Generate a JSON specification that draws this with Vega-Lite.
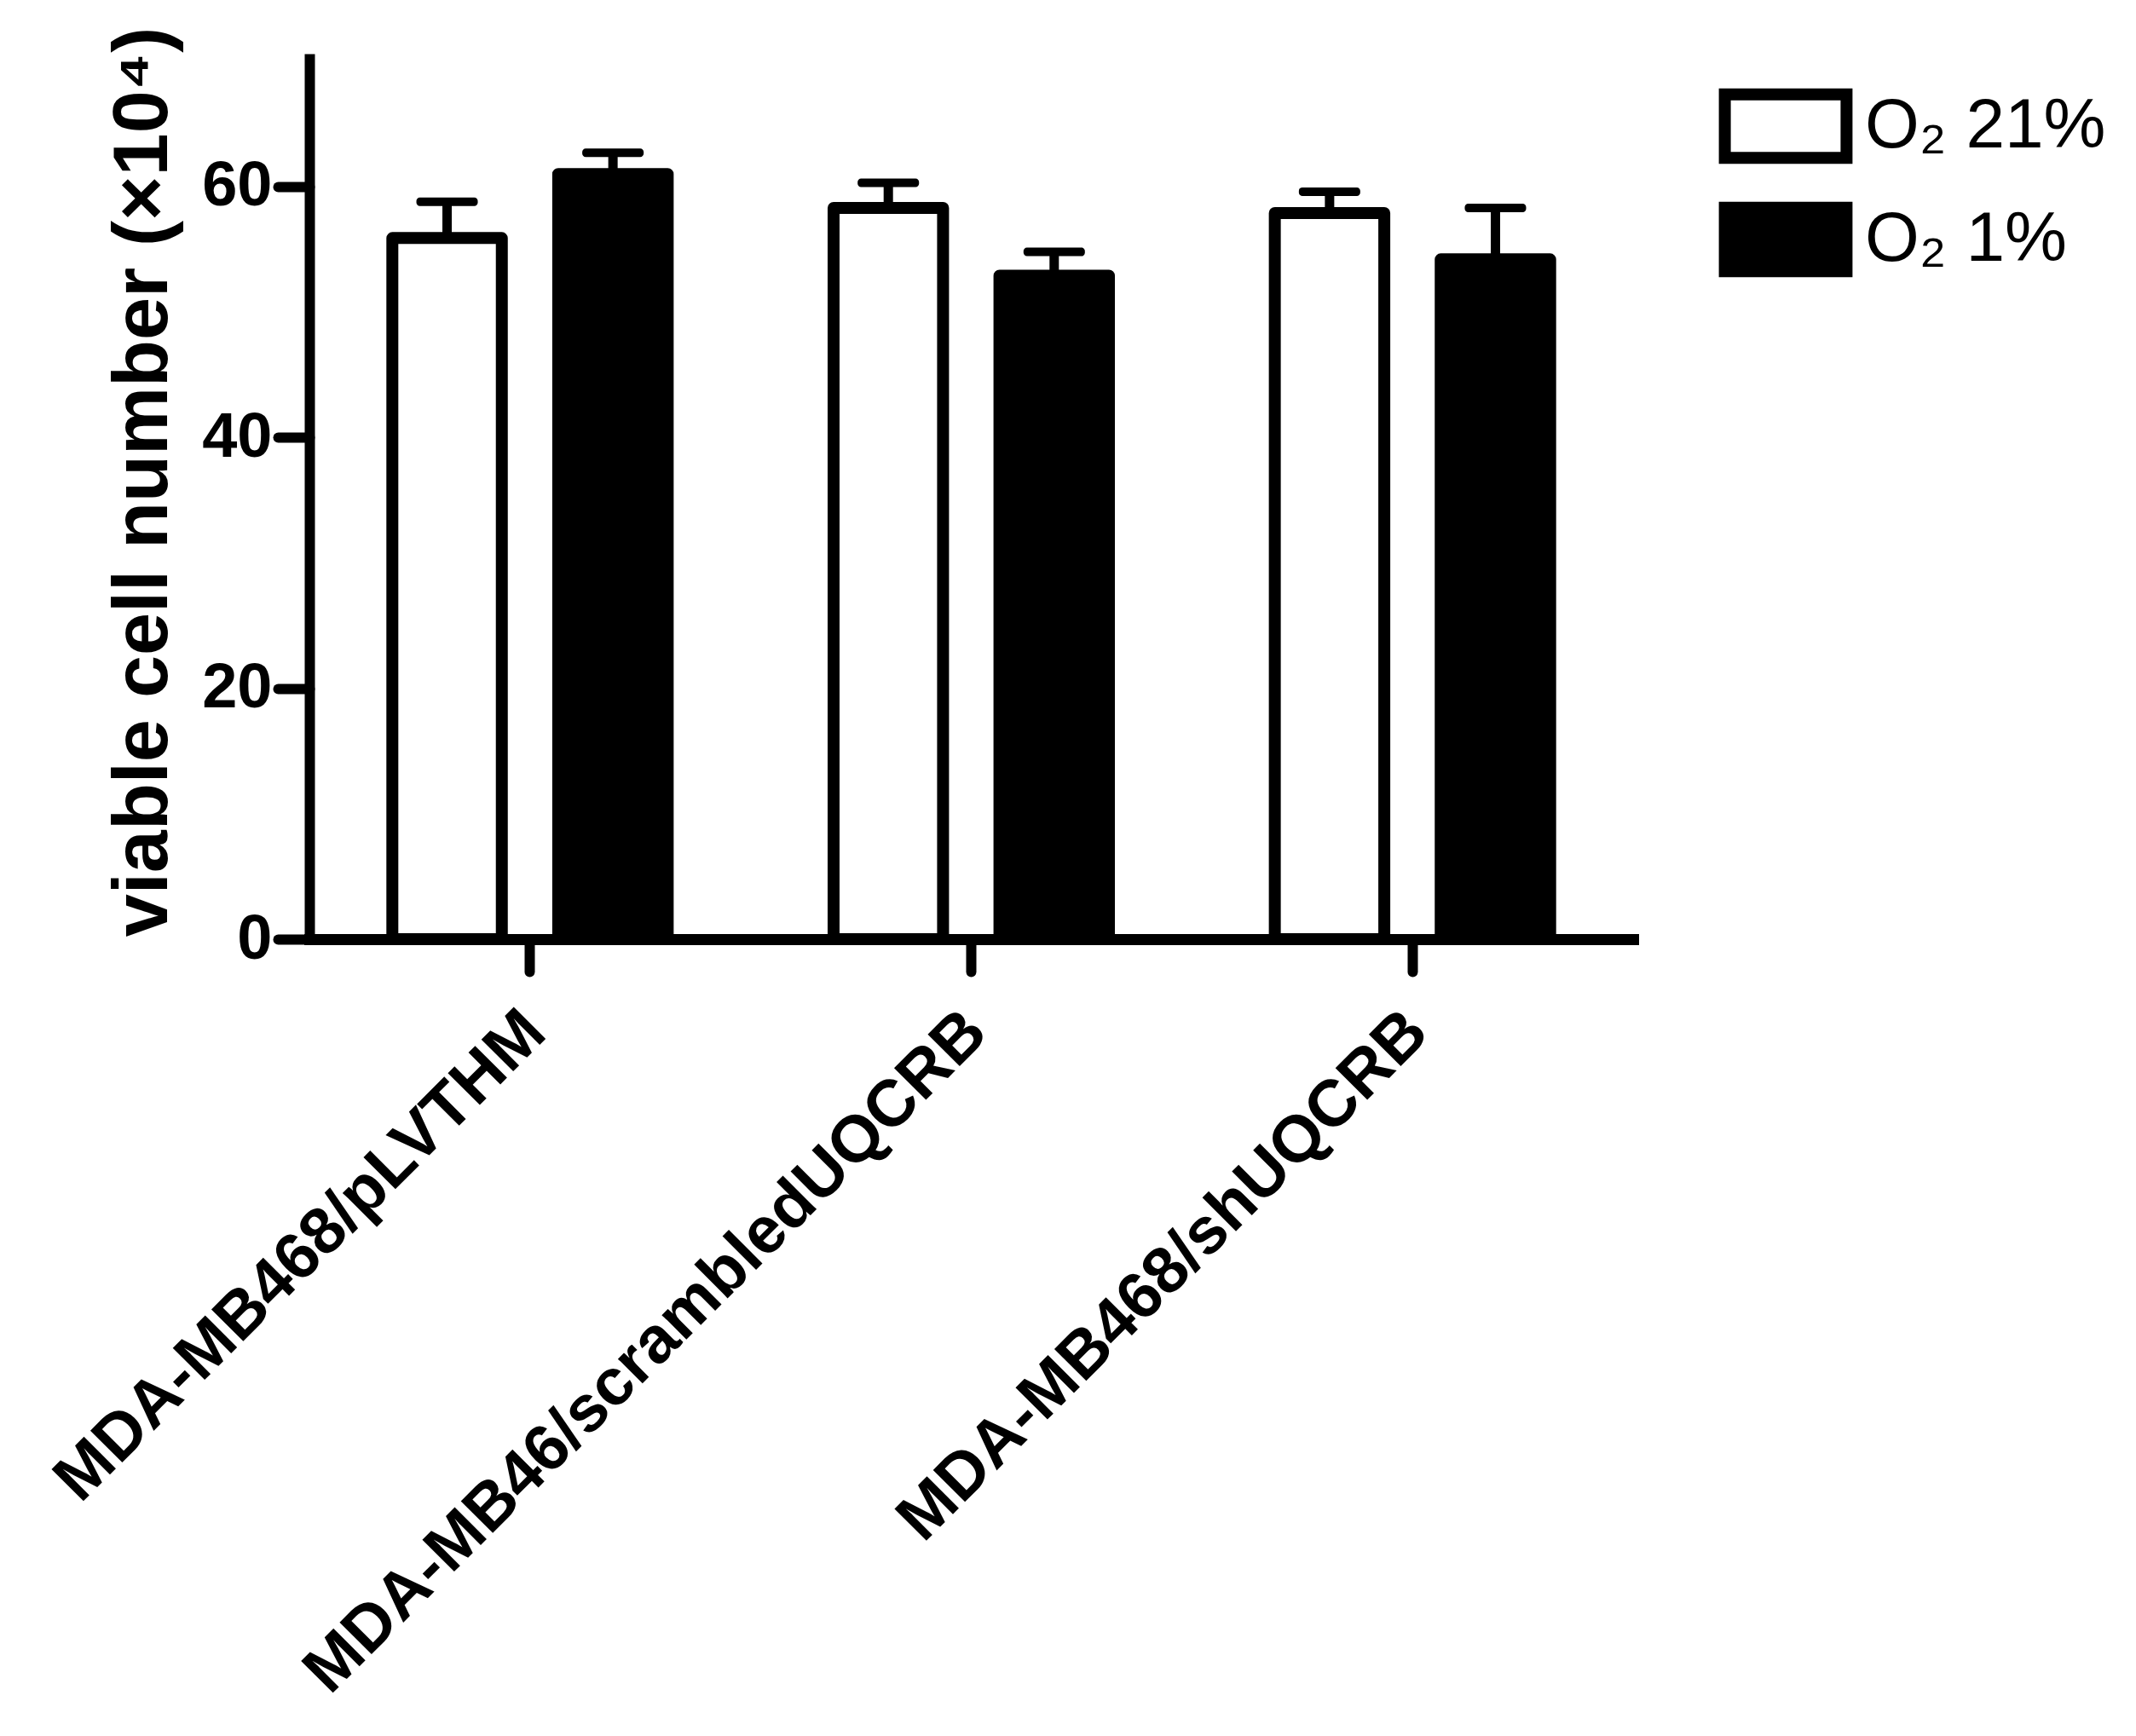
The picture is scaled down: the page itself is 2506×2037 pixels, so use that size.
{
  "$schema": "https://vega.github.io/schema/vega-lite/v6.json",
  "autosize": {"type": "none"},
  "width": 1553,
  "height": 1039,
  "padding": {"left": 363, "top": 63, "right": 590, "bottom": 935},
  "background": "white",
  "config": {
    "view": {"stroke": null},
    "font": "Liberation Sans"
  },
  "data": {
    "values": [
      {"cell": "MDA-MB468/pLVTHM", "cond": "O₂ 21%", "mean": 55.9, "upper": 58.8},
      {"cell": "MDA-MB468/pLVTHM", "cond": "O₂ 1%", "mean": 61.0, "upper": 62.7},
      {"cell": "MDA-MB46/scrambledUQCRB", "cond": "O₂ 21%", "mean": 58.3, "upper": 60.3},
      {"cell": "MDA-MB46/scrambledUQCRB", "cond": "O₂ 1%", "mean": 52.9, "upper": 54.8},
      {"cell": "MDA-MB468/shUQCRB", "cond": "O₂ 21%", "mean": 57.9, "upper": 59.6},
      {"cell": "MDA-MB468/shUQCRB", "cond": "O₂ 1%", "mean": 54.2, "upper": 58.3}
    ]
  },
  "encoding": {
    "x": {
      "field": "cell", "type": "nominal", "sort": null,
      "scale": {"paddingInner": 0, "paddingOuter": 0},
      "axis": {
        "title": null,
        "domainColor": "black", "domainWidth": 13, "domainCap": "square",
        "tickColor": "black", "tickWidth": 12, "tickSize": 38, "tickCap": "round",
        "labelAngle": -45, "labelAlign": "right", "labelBaseline": "alphabetic",
        "labelPadding": 75, "labelOffset": 22,
        "labelFont": "Liberation Sans", "labelFontSize": 77, "labelFontWeight": "bold",
        "labelColor": "black", "labelLimit": 0, "zindex": 1
      }
    },
    "xOffset": {
      "field": "cond", "type": "nominal",
      "scale": {"domain": ["O₂ 21%", "O₂ 1%"], "paddingInner": 0.34, "paddingOuter": 0.5}
    }
  },
  "layer": [
    {
      "mark": {"type": "bar", "stroke": "black", "strokeWidth": 14, "strokeJoin": "round"},
      "encoding": {
        "y": {
          "field": "mean", "type": "quantitative",
          "scale": {"domain": [0, 70.6], "nice": false},
          "axis": {
            "values": [0, 20, 40, 60], "grid": false,
            "domainColor": "black", "domainWidth": 12, "domainCap": "butt",
            "tickColor": "black", "tickWidth": 12, "tickSize": 37, "tickCap": "round",
            "labelPadding": 7, "labelFont": "Liberation Sans", "labelFontSize": 74,
            "labelFontWeight": "bold", "labelColor": "black",
            "title": "viable cell number (×10⁴)",
            "titleFont": "Liberation Sans", "titleFontSize": 90, "titleFontWeight": "bold",
            "titleColor": "black", "titlePadding": 22, "titleY": 502, "zindex": 1
          }
        },
        "fill": {
          "field": "cond", "type": "nominal",
          "scale": {"domain": ["O₂ 21%", "O₂ 1%"], "range": ["white", "black"]},
          "legend": {
            "title": null, "orient": "none", "legendX": 1665, "legendY": 18,
            "padding": 0,
            "symbolType": "M-1.19,-0.62H1.19V0.62H-1.19Z", "symbolSize": 14400,
            "symbolStrokeColor": "black", "symbolStrokeWidth": 14,
            "symbolOpacity": 1,
            "labelFont": "Liberation Sans", "labelFontSize": 82, "labelColor": "black",
            "labelOffset": 26, "rowPadding": 0, "labelLimit": 0
          }
        }
      }
    },
    {
      "mark": {"type": "rule", "color": "black", "strokeWidth": 11},
      "encoding": {
        "y": {"field": "mean", "type": "quantitative"},
        "y2": {"field": "upper"}
      }
    },
    {
      "mark": {"type": "tick", "color": "black", "size": 72, "thickness": 10, "cornerRadius": 4, "opacity": 1},
      "encoding": {
        "y": {"field": "upper", "type": "quantitative"}
      }
    }
  ]
}
